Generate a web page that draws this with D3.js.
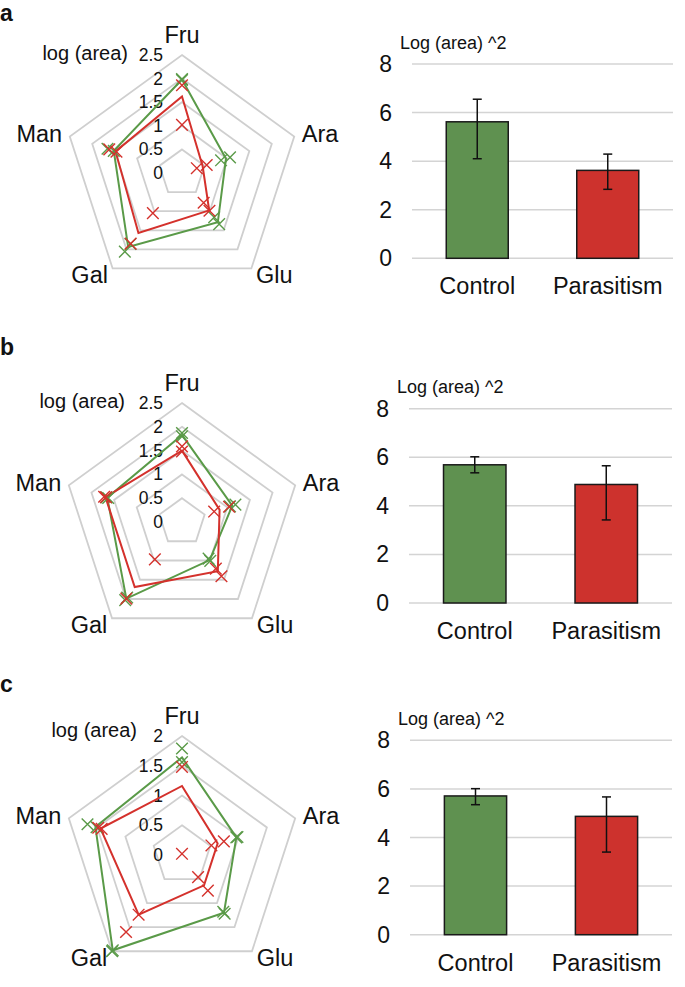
<!DOCTYPE html>
<html>
<head>
<meta charset="utf-8">
<script src="https://cdn.jsdelivr.net/npm/d3@7"></script>
<style>
  body { margin: 0; background: #fff; }
  text { font-family: "Liberation Sans", Arial, sans-serif; fill: #111; }
</style>
</head>
<body>
<svg id="fig" width="685" height="987"></svg>
<script>
// -- DATA -- //
const sugars = ["Fru", "Ara", "Glu", "Gal", "Man"];
const groups = ["Control", "Parasitism"];
const panelLetters = ["a", "b", "c"];
const radarMax = [2.5, 2.5, 2];

// mean lines, log (area), one row per panel, order = sugars
const controlMean = [
  [1.98, 0.98, 1.29, 1.94, 1.52],
  [1.83, 1.11, 0.99, 1.99, 1.65],
  [1.64, 0.96, 1.2, 1.98, 1.53]
];
const parasitismMean = [
  [1.62, 0.46, 0.98, 1.57, 1.48],
  [1.5, 0.83, 1.28, 1.69, 1.69],
  [1.16, 0.63, 0.63, 1.24, 1.44]
];
// replicate points (crosses), two per group per panel
const controlReps = [
  [[1.99, 0.87, 1.34, 2.06, 1.66], [1.97, 1.07, 1.16, 1.86, 1.52]],
  [[1.87, 1.18, 1.01, 2.03, 1.67], [1.8, 1.06, 0.95, 1.96, 1.63]],
  [[1.79, 0.96, 1.22, 1.98, 1.67], [1.56, 0.98, 1.18, 2.0, 1.51]]
];
const parasitismReps = [
  [[1.86, 0.33, 0.78, 1.05, 1.62], [1.02, 0.55, 0.99, 1.85, 1.46]],
  [[1.59, 0.71, 1.41, 0.97, 1.72], [1.48, 1.04, 1.21, 1.99, 1.68]],
  [[1.48, 0.52, 0.46, 1.6, 1.42], [0.02, 0.74, 0.74, 1.24, 1.48]]
];

// bar charts, Log (area) ^2
const barTicks = [0, 2, 4, 6, 8];
const barMean = [[5.62, 3.62], [5.69, 4.88], [5.71, 4.87]];
const barErrHigh = [[6.55, 4.29], [6.02, 5.65], [6.01, 5.67]];
const barErrLow = [[4.1, 2.84], [5.36, 3.42], [5.35, 3.4]];

// -- STYLE / LAYOUT -- //
const green = "#5a9a48", red = "#d4312c";
const barGreen = "#5f9150", barRed = "#cd322d";
const svg = d3.select("#fig");

const layout = [
  { letterY: 21, cy: 173, r: 118, logEnd: 128, logY: 53, bx0: 412, bx1: 673, by0: 258.3, by1: 64 },
  { letterY: 355, cy: 522, r: 119, logEnd: 125, logY: 401, bx0: 409, bx1: 672, by0: 603, by1: 408.7 },
  { letterY: 692, cy: 855, r: 119, logEnd: 137, logY: 730, bx0: 410, bx1: 672, by0: 934.7, by1: 740.3 }
];

// point on the radar for axis i at value v
function radarPoint(rScale, cx, cy, i, v) {
  const a = (i * 2 * Math.PI) / sugars.length;
  const r = rScale(v);
  return [cx + r * Math.sin(a), cy - r * Math.cos(a)];
}

function drawRadar(p) {
  const L = layout[p];
  const cx = 182, cy = L.cy;
  const rScale = d3.scaleLinear().domain([0, radarMax[p]]).range([0, L.r]);
  const ringVals = d3.range(0.5, radarMax[p] + 0.001, 0.5);
  const g = svg.append("g");

  // rings
  g.selectAll(".ring")
    .data(ringVals)
    .join("polygon")
    .attr("points", (v) => sugars.map((s, i) => radarPoint(rScale, cx, cy, i, v).join(",")).join(" "))
    .attr("fill", "none")
    .attr("stroke", "#cfcfcf")
    .attr("stroke-width", 1.8);

  // tick labels, incl. 0 at the centre
  g.selectAll(".tick")
    .data([0].concat(ringVals))
    .join("text")
    .attr("x", cx - 19)
    .attr("y", (v) => cy - rScale(v))
    .attr("text-anchor", "end")
    .attr("dominant-baseline", "central")
    .style("font-size", "17.5px")
    .text((v) => String(v));

  g.append("text")
    .attr("x", L.logEnd)
    .attr("y", L.logY)
    .attr("text-anchor", "end")
    .attr("dominant-baseline", "central")
    .style("font-size", "20px")
    .text("log (area)");

  // category labels
  sugars.forEach((s, i) => {
    const a = (i * 2 * Math.PI) / sugars.length;
    const k = i === 0 ? 20 : 8;
    const pt = radarPoint(rScale, cx, cy, i, radarMax[p]);
    const sx = Math.sin(a), sy = -Math.cos(a);
    g.append("text")
      .attr("x", pt[0] + sx * k)
      .attr("y", pt[1] + sy * k)
      .attr("text-anchor", sx > 0.1 ? "start" : sx < -0.1 ? "end" : "middle")
      .attr("dominant-baseline", "central")
      .style("font-size", "23.5px")
      .text(s);
  });

  // mean lines
  const lineGen = d3.line().curve(d3.curveLinearClosed);
  [[controlMean[p], green], [parasitismMean[p], red]].forEach(([vals, col]) => {
    g.append("path")
      .attr("d", lineGen(vals.map((v, i) => radarPoint(rScale, cx, cy, i, v))))
      .attr("fill", "none")
      .attr("stroke", col)
      .attr("stroke-width", 2);
  });

  // replicate crosses
  const cross = d3.symbol().type(d3.symbolTimes).size(90);
  [[controlReps[p], green], [parasitismReps[p], red]].forEach(([reps, col]) => {
    reps.forEach((row) => {
      row.forEach((v, i) => {
        const pt = radarPoint(rScale, cx, cy, i, v);
        g.append("path")
          .attr("d", cross())
          .attr("transform", `translate(${pt[0]},${pt[1]})`)
          .attr("fill", "none")
          .attr("stroke", col)
          .attr("stroke-width", 1.4);
      });
    });
  });
}

function drawBars(p) {
  const L = layout[p];
  const g = svg.append("g");
  const x = d3.scaleBand().domain(groups).range([L.bx0, L.bx1]).paddingInner(0.525).paddingOuter(0.2625);
  const y = d3.scaleLinear().domain([0, 8]).range([L.by0, L.by1]);

  // gridlines
  g.selectAll(".grid")
    .data(barTicks)
    .join("line")
    .attr("x1", L.bx0)
    .attr("x2", L.bx1)
    .attr("y1", (d) => y(d))
    .attr("y2", (d) => y(d))
    .attr("stroke", "#d4d4d4")
    .attr("stroke-width", 1.5);

  // y tick labels
  g.selectAll(".ylab")
    .data(barTicks)
    .join("text")
    .attr("x", L.bx0 - 20)
    .attr("y", (d) => y(d))
    .attr("text-anchor", "end")
    .attr("dominant-baseline", "central")
    .style("font-size", "23px")
    .text((d) => d);

  g.append("text")
    .attr("x", L.bx0 - 12)
    .attr("y", L.by1 - 21.5)
    .attr("dominant-baseline", "central")
    .style("font-size", "18px")
    .text("Log (area) ^2");

  // bars
  g.selectAll(".bar")
    .data(groups)
    .join("rect")
    .attr("x", (d) => x(d))
    .attr("width", x.bandwidth())
    .attr("y", (d, i) => y(barMean[p][i]))
    .attr("height", (d, i) => y(0) - y(barMean[p][i]))
    .attr("fill", (d, i) => (i === 0 ? barGreen : barRed))
    .attr("stroke", "#1a1a1a")
    .attr("stroke-width", 1.5);

  // error bars
  groups.forEach((d, i) => {
    const cxb = x(d) + x.bandwidth() / 2;
    const hi = y(barErrHigh[p][i]), lo = y(barErrLow[p][i]);
    g.append("line").attr("x1", cxb).attr("x2", cxb).attr("y1", hi).attr("y2", lo)
      .attr("stroke", "#111").attr("stroke-width", 1.5);
    [hi, lo].forEach((yy) => {
      g.append("line").attr("x1", cxb - 4.5).attr("x2", cxb + 4.5).attr("y1", yy).attr("y2", yy)
        .attr("stroke", "#111").attr("stroke-width", 1.5);
    });
  });

  // category labels
  g.selectAll(".xlab")
    .data(groups)
    .join("text")
    .attr("x", (d) => x(d) + x.bandwidth() / 2)
    .attr("y", L.by0 + 28)
    .attr("text-anchor", "middle")
    .attr("dominant-baseline", "central")
    .style("font-size", "23.5px")
    .text((d) => d);
}

panelLetters.forEach((letter, p) => {
  svg.append("text")
    .attr("x", 0)
    .attr("y", layout[p].letterY)
    .style("font-size", "23px")
    .style("font-weight", "bold")
    .text(letter);
  drawRadar(p);
  drawBars(p);
});
</script>
</body>
</html>
